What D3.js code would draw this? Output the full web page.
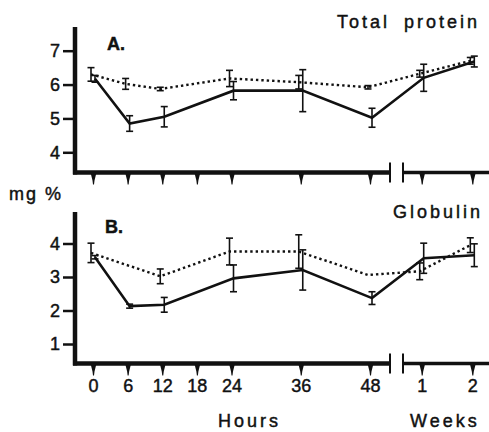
<!DOCTYPE html>
<html>
<head>
<meta charset="utf-8">
<script src="https://cdn.jsdelivr.net/npm/d3@7/dist/d3.min.js"></script>
<style>
  body { margin: 0; background: #fff; }
  svg { display: block; }
  text { font-family: "Liberation Sans", Arial, sans-serif; fill: #111; stroke: #111; stroke-width: 0.45px; }
</style>
</head>
<body>
<div id="chart"></div>
<script>
// time points: 6 in hours, then 2 in weeks
const hourTicks = [0, 6, 12, 18, 24, 36, 48];
const pointHours = [0, 6, 12, 24, 36, 48];
const pointWeeks = [1, 2];
const weekTicks = [1, 2];

// A. Total protein (mg %)
const proteinSolid = [6.17, 4.85, 5.05, 5.82, 5.82, 5.02, 6.2, 6.68];
const proteinSolidErr = [0.1, 0.23, 0.3, 0.27, 0.62, 0.28, 0.4, 0.16];
const proteinDotted = [6.3, 6.02, 5.87, 6.18, 6.07, 5.92, 6.32, 6.7];
const proteinDottedErr = [0.2, 0.16, 0.05, 0.24, 0.2, 0.05, 0.1, 0.1];
const proteinTicks = [4, 5, 6, 7];

// B. Globulin (mg %)
const globSolid = [3.59, 2.13, 2.17, 2.96, 3.21, 2.37, 3.56, 3.65];
const globSolidErr = [0.05, 0.06, 0.22, 0.4, 0.6, 0.19, 0.45, 0.34];
const globDotted = [3.72, null, 3.02, 3.76, 3.76, 3.06, 3.17, 3.95];
const globDottedErr = [0.29, null, 0.22, 0.4, 0.5, 0, 0.25, 0.22];
const globTicks = [1, 2, 3, 4];

const W = 489, H = 432;
const svg = d3.select("#chart").append("svg")
  .attr("width", W).attr("height", H);

const xHours = d3.scaleLinear().domain([0, 48]).range([93, 370]);
const xWeeks = d3.scaleLinear().domain([1, 2]).range([421.7, 472.3]);

function xPos(i) {
  return i < pointHours.length ? xHours(pointHours[i]) : xWeeks(pointWeeks[i - pointHours.length]);
}

const axisX = 75;
const breakL = 390, breakR = 403;

function drawPanel(cfg) {
  const g = svg.append("g");
  const y = d3.scaleLinear().domain(cfg.domain).range(cfg.range);

  // y axis with labels
  const yAxis = d3.axisLeft(y).tickValues(cfg.ticks).tickFormat(d3.format("d"))
    .tickSize(11).tickPadding(3);
  const ya = g.append("g").attr("transform", `translate(${axisX - 1},0)`).call(yAxis);
  ya.select(".domain").remove();
  ya.selectAll(".tick line").attr("stroke", "#111").attr("stroke-width", 2.5);
  ya.selectAll(".tick text").style("font-size", "18px").attr("fill", "#111");

  // y axis spine
  g.append("line")
    .attr("x1", axisX).attr("x2", axisX)
    .attr("y1", cfg.top).attr("y2", cfg.bottom + 2)
    .attr("stroke", "#111").attr("stroke-width", 4.5);

  // x axis line, broken between hours and weeks
  g.append("line")
    .attr("x1", axisX - 2).attr("x2", breakL)
    .attr("y1", cfg.bottom).attr("y2", cfg.bottom)
    .attr("stroke", "#111").attr("stroke-width", 4.5);
  g.append("line")
    .attr("x1", breakR).attr("x2", W)
    .attr("y1", cfg.bottom).attr("y2", cfg.bottom)
    .attr("stroke", "#111").attr("stroke-width", 3.5);
  [breakL, breakR].forEach(bx => {
    g.append("line")
      .attr("x1", bx).attr("x2", bx)
      .attr("y1", cfg.bottom - 10).attr("y2", cfg.bottom + 10)
      .attr("stroke", "#111").attr("stroke-width", 2);
  });

  // triangle ticks via axes
  const hx = d3.axisBottom(xHours).tickValues(hourTicks).tickSize(0).tickPadding(16)
    .tickFormat(cfg.labels ? d3.format("d") : "");
  const wx = d3.axisBottom(xWeeks).tickValues(weekTicks).tickSize(0).tickPadding(16)
    .tickFormat(cfg.labels ? d3.format("d") : "");
  [hx, wx].forEach(ax => {
    const a = g.append("g").attr("transform", `translate(0,${cfg.bottom})`).call(ax);
    a.select(".domain").remove();
    a.selectAll(".tick").append("path")
      .attr("d", "M-3,0 L3,0 L1,8 L0.5,12 L-0.5,12 L-1,8 Z")
      .attr("fill", "#111");
    a.selectAll(".tick text").style("font-size", "18px").attr("fill", "#111");
  });

  const series = [
    { v: cfg.dotted, e: cfg.dottedErr, dx: -2, dash: "2.4,3", w: 2.4 },
    { v: cfg.solid, e: cfg.solidErr, dx: 2, dash: null, w: 2.6 }
  ];

  series.forEach(s => {
    const pts = s.v.map((v, i) => ({ v: v, e: s.e[i], x: xPos(i) + s.dx }));
    const line = d3.line().defined(d => d.v != null).x(d => d.x).y(d => y(d.v));
    g.append("path")
      .datum(pts.filter(d => d.v != null))
      .attr("d", line)
      .attr("fill", "none")
      .attr("stroke", "#111")
      .attr("stroke-width", s.w)
      .attr("stroke-dasharray", s.dash);

    const eb = g.append("g").selectAll("g")
      .data(pts.filter(d => d.v != null && d.e > 0))
      .join("g").attr("stroke", "#111").attr("stroke-width", 1.6);
    eb.append("line")
      .attr("x1", d => d.x).attr("x2", d => d.x)
      .attr("y1", d => y(d.v + d.e)).attr("y2", d => y(d.v - d.e));
    eb.append("line")
      .attr("x1", d => d.x - 3.5).attr("x2", d => d.x + 3.5)
      .attr("y1", d => y(d.v + d.e)).attr("y2", d => y(d.v + d.e));
    eb.append("line")
      .attr("x1", d => d.x - 3.5).attr("x2", d => d.x + 3.5)
      .attr("y1", d => y(d.v - d.e)).attr("y2", d => y(d.v - d.e));
  });

  g.append("text")
    .attr("x", cfg.letterX).attr("y", cfg.letterY)
    .style("font-size", "18px").style("font-weight", "bold")
    .text(cfg.letter);

  g.append("text")
    .attr("x", cfg.titleX).attr("y", cfg.titleY)
    .style("font-size", "18px").style("letter-spacing", "3px").style("word-spacing", "6px")
    .text(cfg.title);
}

drawPanel({
  domain: [4, 7], range: [152.3, 50.7], ticks: proteinTicks,
  top: 27, bottom: 172.5, labels: false,
  solid: proteinSolid, solidErr: proteinSolidErr,
  dotted: proteinDotted, dottedErr: proteinDottedErr,
  letter: "A.", letterX: 107, letterY: 50,
  title: "Total protein", titleX: 337, titleY: 28
});

drawPanel({
  domain: [1, 4], range: [344, 243.5], ticks: globTicks,
  top: 212, bottom: 363.5, labels: true,
  solid: globSolid, solidErr: globSolidErr,
  dotted: globDotted, dottedErr: globDottedErr,
  letter: "B.", letterX: 105, letterY: 233,
  title: "Globulin", titleX: 393, titleY: 218
});

svg.append("text")
  .attr("x", 9).attr("y", 200)
  .style("font-size", "18px").style("letter-spacing", "2px")
  .text("mg %");

svg.append("text")
  .attr("x", 218).attr("y", 427)
  .style("font-size", "18px").style("letter-spacing", "3px")
  .text("Hours");

svg.append("text")
  .attr("x", 410).attr("y", 427)
  .style("font-size", "18px").style("letter-spacing", "3px")
  .text("Weeks");
</script>
</body>
</html>
